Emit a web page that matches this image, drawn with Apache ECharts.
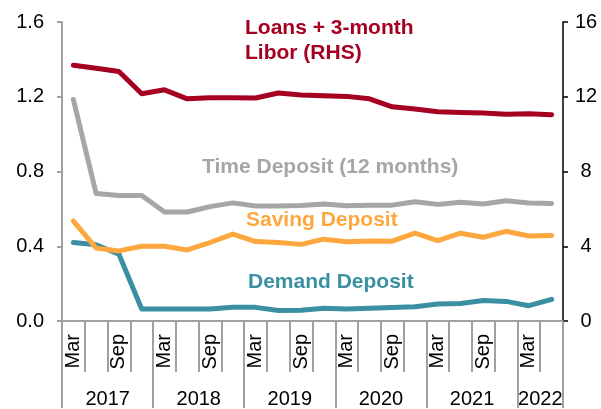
<!DOCTYPE html>
<html>
<head>
<meta charset="utf-8">
<script src="https://cdn.jsdelivr.net/npm/echarts@6/dist/echarts.min.js"></script>
<style>
  html, body { margin: 0; padding: 0; background: #fff; }
  #chart { width: 601px; height: 409px; }
</style>
</head>
<body>
<div id="chart"></div>
<script>
// quarterly points, Mar 2017 .. Jun 2022
const quarters = ['2017-03','2017-06','2017-09','2017-12','2018-03','2018-06','2018-09','2018-12',
  '2019-03','2019-06','2019-09','2019-12','2020-03','2020-06','2020-09','2020-12',
  '2021-03','2021-06','2021-09','2021-12','2022-03','2022-06'];
const monthLabels = ['Mar','','Sep','','Mar','','Sep','','Mar','','Sep','','Mar','','Sep','','Mar','','Sep','','Mar',''];
const yearLabels = ['','2017','','','','2018','','','','2019','','','','2020','','','','2021','','','2022',''];
const leftTicks = ['0.0','0.4','0.8','1.2','1.6'];

const loansLibor = [13.69, 13.52, 13.35, 12.16, 12.37, 11.89, 11.95, 11.95, 11.93, 12.2, 12.09, 12.05,
  12.02, 11.89, 11.46, 11.34, 11.2, 11.16, 11.13, 11.06, 11.09, 11.04];
const timeDeposit = [1.185, 0.682, 0.672, 0.672, 0.583, 0.583, 0.612, 0.632, 0.615, 0.615, 0.618, 0.626,
  0.617, 0.62, 0.62, 0.638, 0.624, 0.636, 0.626, 0.644, 0.632, 0.629];
const savingDeposit = [0.535, 0.39, 0.375, 0.40, 0.40, 0.38, 0.42, 0.465, 0.425, 0.42, 0.41, 0.438,
  0.424, 0.428, 0.427, 0.47, 0.43, 0.47, 0.448, 0.48, 0.455, 0.458];
const demandDeposit = [0.42, 0.408, 0.357, 0.064, 0.064, 0.064, 0.064, 0.073, 0.073, 0.056, 0.058, 0.068,
  0.064, 0.068, 0.072, 0.076, 0.091, 0.094, 0.11, 0.105, 0.082, 0.116];

const RED = '#A50021', GRAY = '#A6A6A6', ORANGE = '#FDA83F', TEAL = '#3A8FA3';
const AXIS_GRAY = '#A0A0A0';
const FONT = 'Liberation Sans, Arial, sans-serif';

const chart = echarts.init(document.getElementById('chart'));

function line(name, data, color, yIdx) {
  return {
    name: name, type: 'line', data: data, yAxisIndex: yIdx,
    symbol: 'none', smooth: false, silent: true,
    lineStyle: { color: color, width: 5, join: 'round', cap: 'round' }
  };
}

chart.setOption({
  animation: false,
  textStyle: { fontFamily: FONT },
  grid: { left: 62, right: 38, top: 22, bottom: 87 },
  xAxis: [
    {
      type: 'category', data: quarters, position: 'bottom',
      axisLine: { show: true, lineStyle: { color: AXIS_GRAY, width: 2 } },
      axisTick: { show: true, interval: 0, length: 51, lineStyle: { color: AXIS_GRAY, width: 2 } },
      axisLabel: {
        interval: 0, rotate: 90, margin: 13, color: '#000', fontSize: 20, fontFamily: FONT,
        formatter: (v, i) => monthLabels[i]
      }
    },
    {
      type: 'category', data: quarters, position: 'bottom',
      axisLine: { show: false },
      axisTick: {
        show: true, interval: (i) => i % 4 === 0, length: 87,
        lineStyle: { color: AXIS_GRAY, width: 2 }
      },
      axisLabel: {
        interval: 0, margin: 68, color: '#000', fontSize: 20, fontFamily: FONT,
        padding: [0, 0, 0, 23],
        formatter: (v, i) => yearLabels[i]
      }
    }
  ],
  yAxis: [
    {
      type: 'value', min: 0, max: 1.6, interval: 0.4, position: 'left',
      splitLine: { show: false },
      axisLine: { show: true, lineStyle: { color: AXIS_GRAY, width: 2 } },
      axisTick: { show: true, length: 5, lineStyle: { color: AXIS_GRAY, width: 2 } },
      axisLabel: {
        margin: 18, color: '#000', fontSize: 20, fontFamily: FONT,
        formatter: (v) => leftTicks[Math.round(v / 0.4)]
      }
    },
    {
      type: 'value', min: 0, max: 16, interval: 4, position: 'right',
      splitLine: { show: false },
      axisLine: { show: true, lineStyle: { color: '#000', width: 1.5 } },
      axisTick: { show: true, length: 5, lineStyle: { color: '#000', width: 1.5 } },
      axisLabel: { margin: 23, align: 'center', color: '#000', fontSize: 20, fontFamily: FONT }
    }
  ],
  series: [
    line('Demand Deposit', demandDeposit, TEAL, 0),
    line('Saving Deposit', savingDeposit, ORANGE, 0),
    line('Time Deposit (12 months)', timeDeposit, GRAY, 0),
    line('Loans + 3-month Libor (RHS)', loansLibor, RED, 1)
  ],
  graphic: [
    { type: 'text', left: 245, top: 16, silent: true,
      style: { text: 'Loans + 3-month\nLibor (RHS)', fill: RED, font: 'bold 21px ' + FONT, lineHeight: 25 } },
    { type: 'text', left: 202, top: 157, silent: true,
      style: { text: 'Time Deposit (12 months)', fill: GRAY, font: 'bold 21px ' + FONT } },
    { type: 'text', left: 246, top: 210, silent: true,
      style: { text: 'Saving Deposit', fill: ORANGE, font: 'bold 21px ' + FONT } },
    { type: 'text', left: 248, top: 272, silent: true,
      style: { text: 'Demand Deposit', fill: TEAL, font: 'bold 21px ' + FONT } }
  ]
});

window.addEventListener('resize', function () {
  chart.resize();
});
</script>
</body>
</html>
